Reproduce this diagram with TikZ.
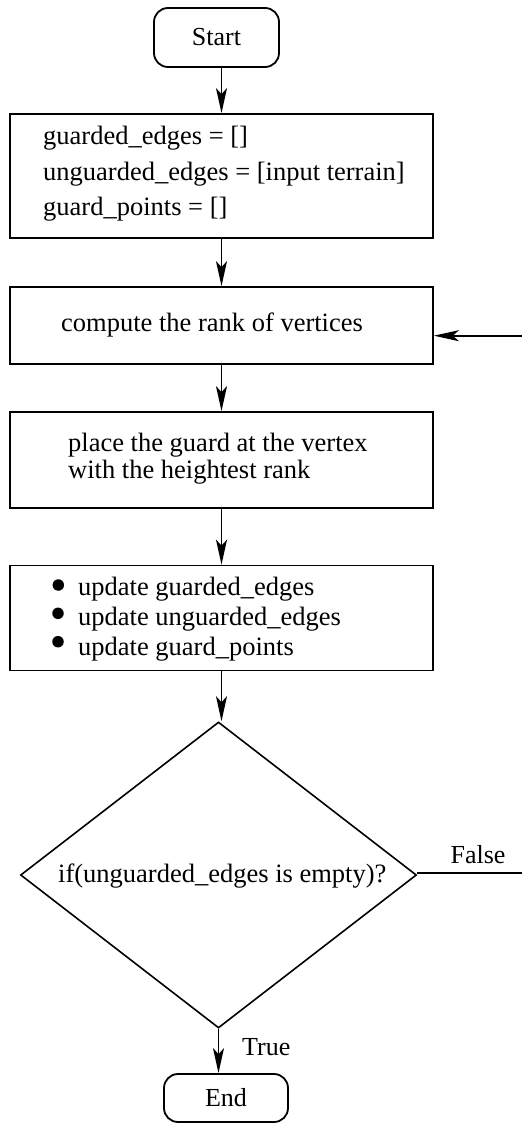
\documentclass[tikz,border=0pt]{standalone}
\usepackage{fontspec}
\setmainfont{Liberation Serif}
\usetikzlibrary{arrows.meta,shapes.geometric}
\begin{document}
\begin{tikzpicture}[x=1pt,y=-1pt,
  box/.style={draw, rectangle, inner sep=0pt, line width=1.8pt},
  term/.style={box, rounded corners=14pt, font=\fontsize{26}{30}\selectfont},
  txt/.style={anchor=base west, inner sep=0pt, font=\fontsize{26.5}{30}\selectfont},
  lbl/.style={inner sep=0pt, font=\fontsize{26}{30}\selectfont},
  bullet/.style={circle, fill, inner sep=0pt, minimum size=11.5pt},
  arr/.style={-{Stealth[length=25pt,width=11pt,inset=6pt]}, line width=1.8pt},
  ln/.style={line width=1.8pt}]
\useasboundingbox (0,0) rectangle (522,1129);

% nodes
\node[term, minimum width=125pt, minimum height=59pt] (start) at (216.5,37.5) {Start};
\node[box, minimum width=423pt, minimum height=124pt] (b1) at (221.5,176) {};
\node[box, minimum width=423pt, minimum height=77pt] (b2) at (221.5,325.5) {};
\node[box, minimum width=423pt, minimum height=96pt] (b3) at (221.5,460) {};
\node[box, minimum width=423pt, minimum height=105pt] (b4) at (221.5,618) {};
\node[draw, diamond, inner sep=0pt, line width=1.6pt, minimum width=396pt, minimum height=306pt] (dia) at (218.5,875) {};
\node[term, minimum width=124pt, minimum height=48pt] (end) at (226,1098) {End};

% texts
\node[txt] (t1a) at (43,145) {guarded\_edges = []};
\node[txt] (t1b) at (43,180) {unguarded\_edges = [input terrain]};
\node[txt] (t1c) at (43,215) {guard\_points = []};
\node[txt] (t2) at (61,331) {compute the rank of vertices};
\node[txt] (t3a) at (68,451.5) {place the guard at the vertex};
\node[txt] (t3b) at (68,478) {with the heightest rank};
\node[bullet] (u1) at (58.3,585) {};
\node[bullet] (u2) at (58,613.3) {};
\node[bullet] (u3) at (58,641.7) {};
\node[txt] (t4a) at (78,595) {update guarded\_edges};
\node[txt] (t4b) at (78,625) {update unguarded\_edges};
\node[txt] (t4c) at (78,655) {update guard\_points};
\node[txt] (t5) at (58,882) {if(unguarded\_edges is empty)?};
\node[lbl, anchor=base] (lf) at (478,863) {False};
\node[lbl, anchor=base west] (lt) at (242,1055) {True};

% free ends
\coordinate (fb) at (522,335.7);
\coordinate (fe) at (522,873);

% connectors
\draw[arr] (b1.north |- start.south) -- (b1.north);
\draw[arr] (b1.south) -- (b2.north);
\draw[arr] (b2.south) -- (b3.north);
\draw[arr] (b3.south) -- (b4.north);
\draw[arr] (b4.south) -- (b4.south |- dia.north);
\draw[arr] (fb) -- (fb -| b2.east);
\draw[ln] (dia.east |- fe) -- (fe);
\draw[arr] (dia.south) -- (dia.south |- end.north);
\end{tikzpicture}
\end{document}
